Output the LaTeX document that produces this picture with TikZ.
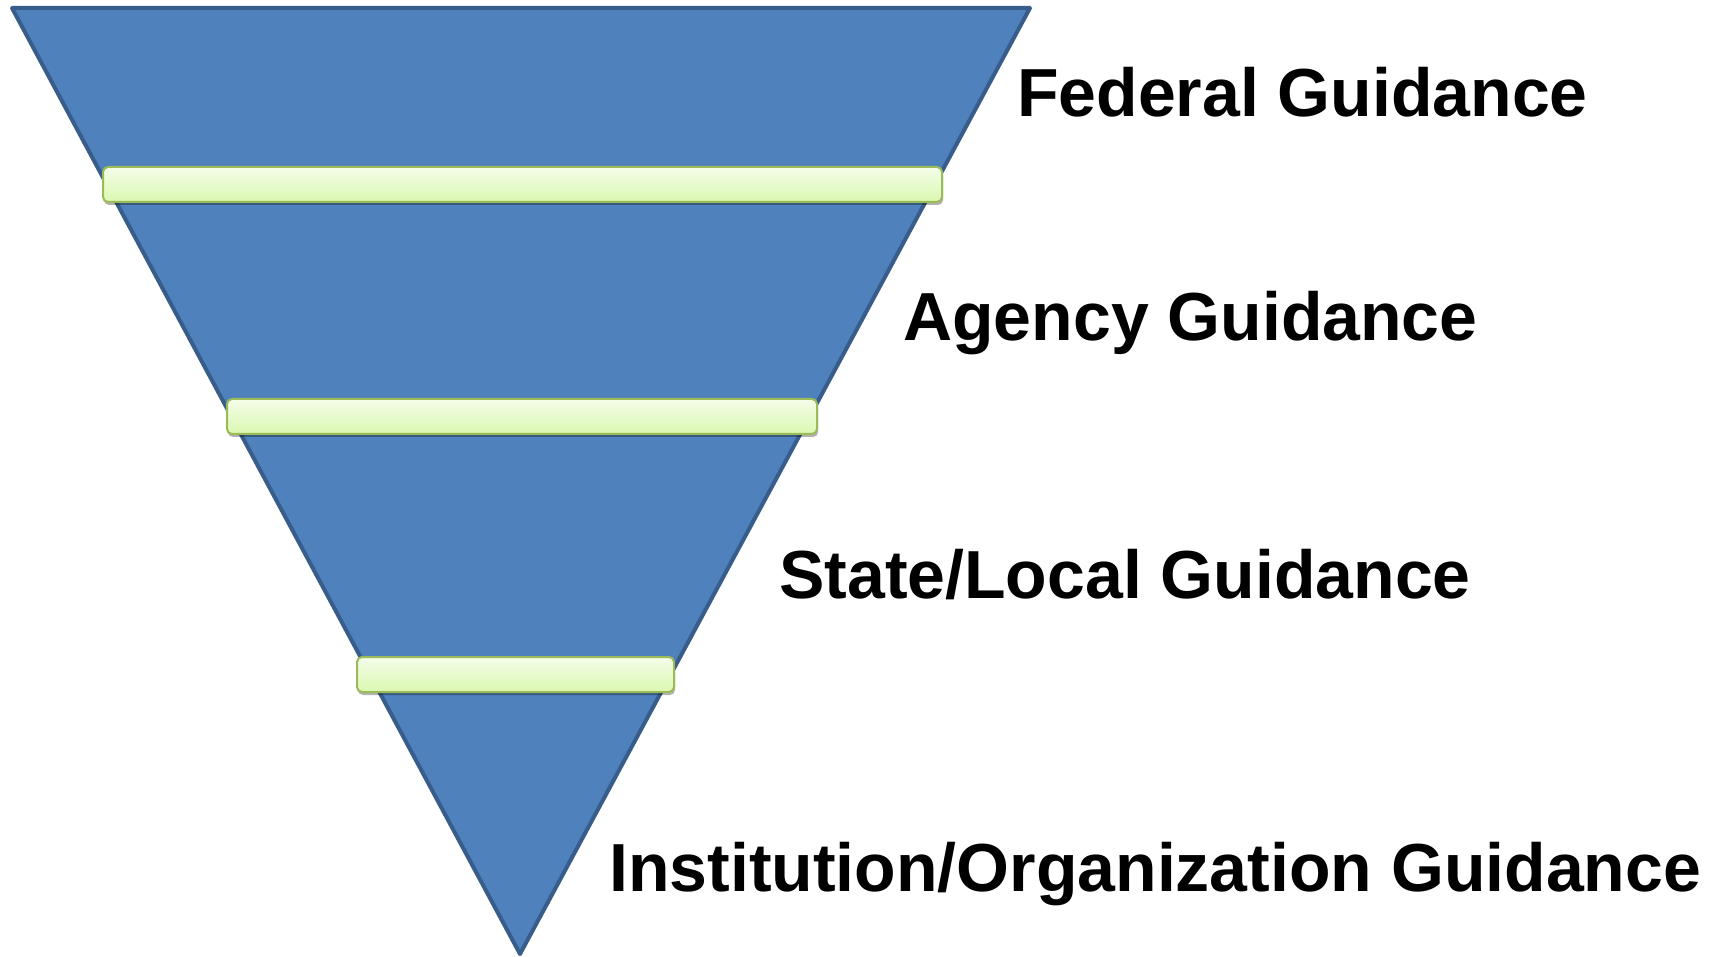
\documentclass[tikz,border=0pt]{standalone}
\usepackage{fontspec}
\setmainfont{Liberation Sans}
\usetikzlibrary{shadows}
\definecolor{funnelfill}{HTML}{4F81BD}
\definecolor{funneledge}{HTML}{385D8A}
\definecolor{bartop}{HTML}{F4FDEA}
\definecolor{barbot}{HTML}{DBF8B0}
\definecolor{baredge}{HTML}{9BBB59}
\begin{document}
\begin{tikzpicture}[x=1pt,y=-1pt,
  funnel/.style={fill=funnelfill,draw=funneledge,line width=4pt,line join=round},
  barbox/.style={draw=baredge,line width=2pt,rounded corners=5pt,
    top color=bartop,bottom color=barbot,inner sep=0pt,
    drop shadow={shadow xshift=1pt,shadow yshift=-3pt,opacity=0.3,fill=black}},
  label/.style={font=\bfseries\fontsize{68}{80}\selectfont,anchor=base west,inner sep=0pt}]
\useasboundingbox (0,0) rectangle (1725,957);
\coordinate (tl) at (12,8);
\coordinate (tr) at (1030,8);
\coordinate (tip) at (520,954);
\draw[funnel] (tl) -- (tr) -- (tip) -- cycle;
\node[barbox,minimum width=839pt,minimum height=35pt] (bar1) at (522.5,184.5) {};
\node[barbox,minimum width=590pt,minimum height=35pt] (bar2) at (522,416.5) {};
\node[barbox,minimum width=317pt,minimum height=35pt] (bar3) at (515.5,674.5) {};
\node[label] (federal) at (1017,117) {Federal Guidance};
\node[label] (agency) at (903,341) {Agency Guidance};
\node[label] (state) at (779,598) {State/Local Guidance};
\node[label] (inst) at (609,891) {Institution/Organization Guidance};
\end{tikzpicture}
\end{document}
